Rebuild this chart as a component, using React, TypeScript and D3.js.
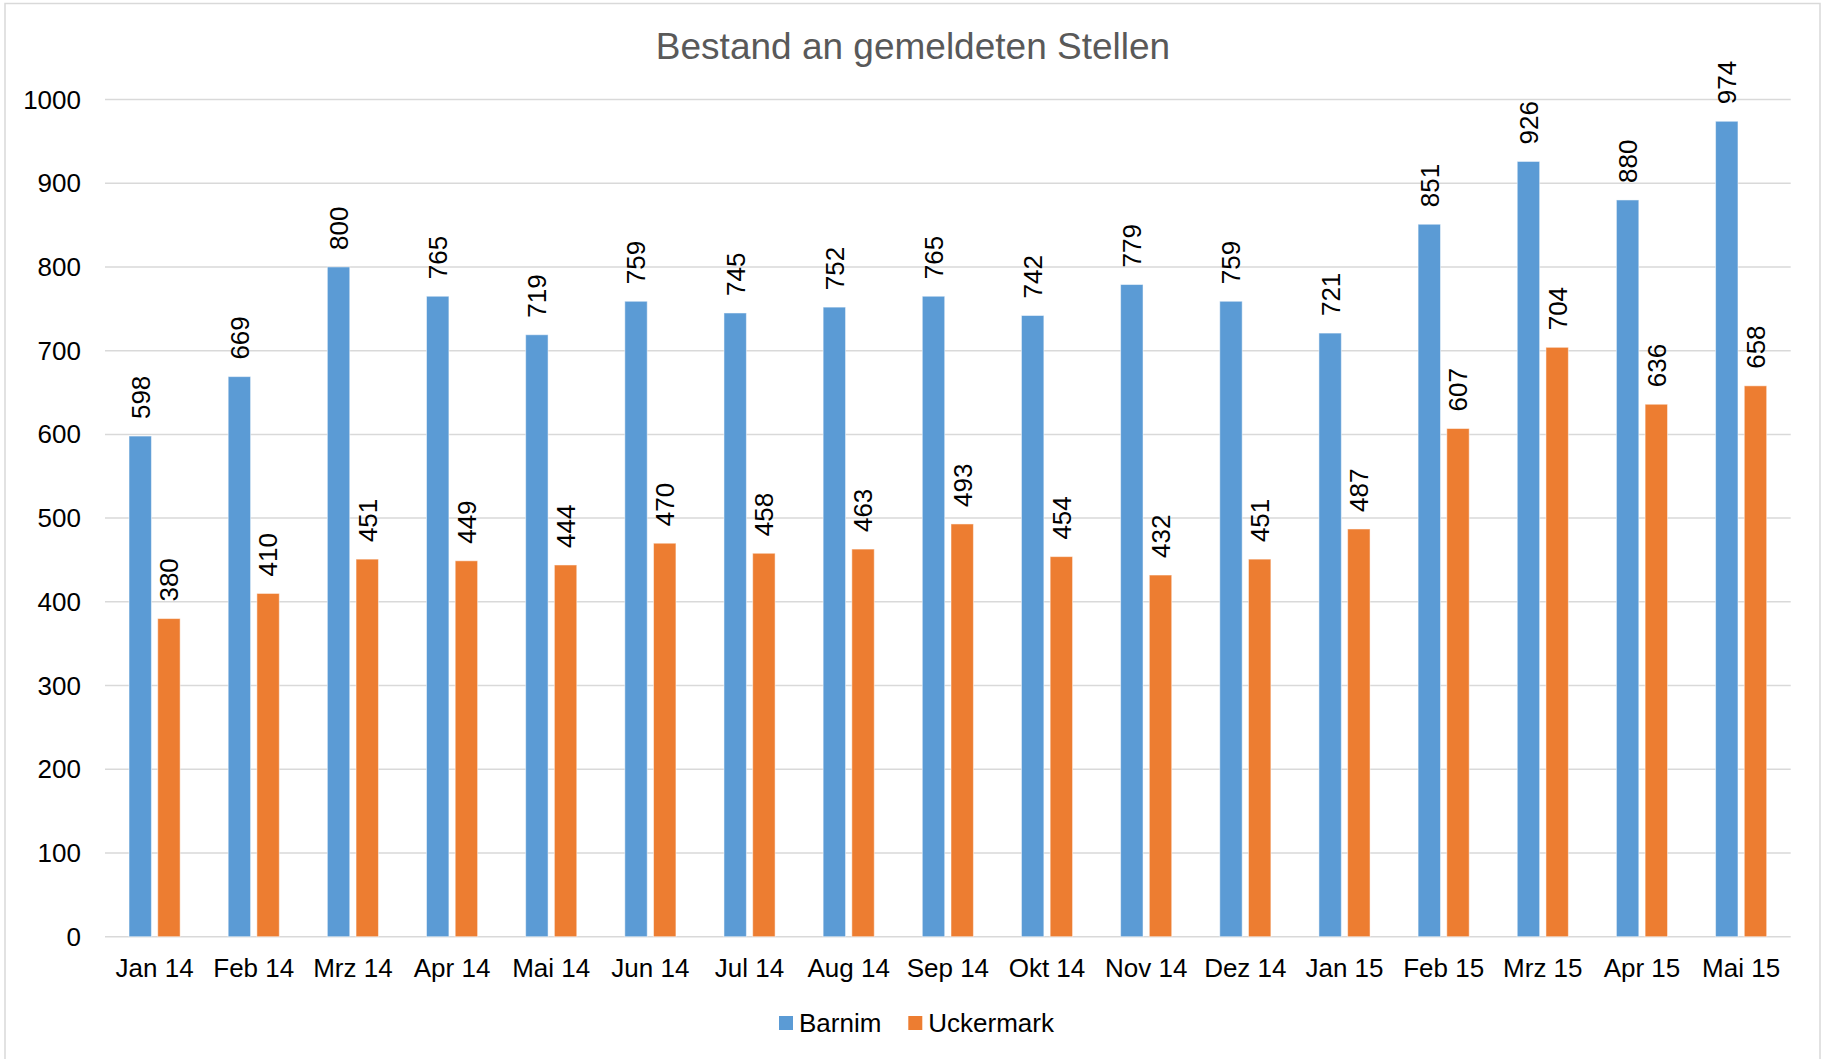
import React, { useEffect, useRef } from 'react';
import * as d3 from 'd3';

const months = ['Jan 14', 'Feb 14', 'Mrz 14', 'Apr 14', 'Mai 14', 'Jun 14', 'Jul 14', 'Aug 14', 'Sep 14', 'Okt 14', 'Nov 14', 'Dez 14', 'Jan 15', 'Feb 15', 'Mrz 15', 'Apr 15', 'Mai 15'];
const barnim = [598, 669, 800, 765, 719, 759, 745, 752, 765, 742, 779, 759, 721, 851, 926, 880, 974];
const uckermark = [380, 410, 451, 449, 444, 470, 458, 463, 493, 454, 432, 451, 487, 607, 704, 636, 658];
const seriesNames = ['Barnim', 'Uckermark'];
const seriesColors = ['#5B9BD5', '#ED7D31'];
const yTicks = [0, 100, 200, 300, 400, 500, 600, 700, 800, 900, 1000];

const W = 1825;
const H = 1059;
const FONT = '"Liberation Sans", Arial, sans-serif';

const App: React.FC = () => {
  const svgRef = useRef<SVGSVGElement>(null);

  useEffect(() => {
    if (!svgRef.current) return;
    const svg = d3.select(svgRef.current);
    svg.selectAll('*').remove();

    const margin = { top: 99.5, right: 34.3, bottom: 122.3, left: 105 };
    const innerWidth = W - margin.left - margin.right;
    const innerHeight = H - margin.top - margin.bottom;

    svg.append('rect')
      .attr('width', W).attr('height', H).attr('fill', '#fff');
    // chart frame
    svg.append('rect')
      .attr('x', 5).attr('y', 3.5)
      .attr('width', 1815).attr('height', 1070)
      .attr('fill', 'none')
      .attr('stroke', '#d9d9d9')
      .attr('stroke-width', 1.5);

    svg.append('text')
      .attr('x', 913).attr('y', 58.5)
      .attr('text-anchor', 'middle')
      .attr('font-family', FONT)
      .attr('font-size', 37)
      .attr('fill', '#595959')
      .text('Bestand an gemeldeten Stellen');

    const g = svg.append('g').attr('transform', `translate(${margin.left},${margin.top})`);

    const x = d3.scaleBand<string>().domain(months).range([0, innerWidth]).padding(0);
    const y = d3.scaleLinear().domain([0, 1000]).range([innerHeight, 0]);

    const band = x.bandwidth();
    const barW = band * 0.226;
    const gap = band * 0.0635;

    // gridlines
    g.selectAll('line.grid')
      .data(yTicks)
      .join('line')
      .attr('x1', 0).attr('x2', innerWidth)
      .attr('y1', d => y(d)).attr('y2', d => y(d))
      .attr('stroke', '#d9d9d9')
      .attr('stroke-width', 1.5);

    g.selectAll('text.ytick')
      .data(yTicks)
      .join('text')
      .attr('x', -24)
      .attr('y', d => y(d))
      .attr('dy', '0.35em')
      .attr('text-anchor', 'end')
      .attr('font-family', FONT)
      .attr('font-size', 26)
      .attr('fill', '#000')
      .text(d => d);

    g.selectAll('text.xtick')
      .data(months)
      .join('text')
      .attr('x', d => (x(d) ?? 0) + band / 2)
      .attr('y', innerHeight + 40)
      .attr('text-anchor', 'middle')
      .attr('font-family', FONT)
      .attr('font-size', 26)
      .attr('fill', '#000')
      .text(d => d);

    const series = [barnim, uckermark];
    series.forEach((vals, si) => {
      const offset = si === 0 ? -gap / 2 - barW : gap / 2;
      const cx = (i: number) => (x(months[i]) ?? 0) + band / 2 + offset;

      g.append('g')
        .selectAll('rect')
        .data(vals)
        .join('rect')
        .attr('x', (_, i) => cx(i))
        .attr('y', d => y(d))
        .attr('width', barW)
        .attr('height', d => innerHeight - y(d))
        .attr('fill', seriesColors[si])
        .attr('stroke', '#ffffff')
        .attr('stroke-opacity', 0.5)
        .attr('stroke-width', 1);

      g.append('g')
        .selectAll('text')
        .data(vals)
        .join('text')
        .attr('transform', (d, i) => `translate(${cx(i) + barW / 2},${y(d) - 17}) rotate(-90)`)
        .attr('dy', '0.36em')
        .attr('text-anchor', 'start')
        .attr('font-family', FONT)
        .attr('font-size', 26)
        .attr('fill', '#000')
        .text(d => d);
    });

    // legend
    const legend = svg.append('g');
    const items = [
      { x: 779, name: seriesNames[0], color: seriesColors[0] },
      { x: 908.3, name: seriesNames[1], color: seriesColors[1] },
    ];
    items.forEach(it => {
      legend.append('rect')
        .attr('x', it.x).attr('y', 1016)
        .attr('width', 14).attr('height', 14)
        .attr('fill', it.color);
      legend.append('text')
        .attr('x', it.x + 20).attr('y', 1031.5)
        .attr('font-family', FONT)
        .attr('font-size', 26)
        .attr('fill', '#000')
        .text(it.name);
    });
  }, []);

  return (
    <div style={{ position: 'absolute', left: 0, top: 0 }}>
      <svg ref={svgRef} width={W} height={H} style={{ display: 'block' }} />
    </div>
  );
};

export default App;
